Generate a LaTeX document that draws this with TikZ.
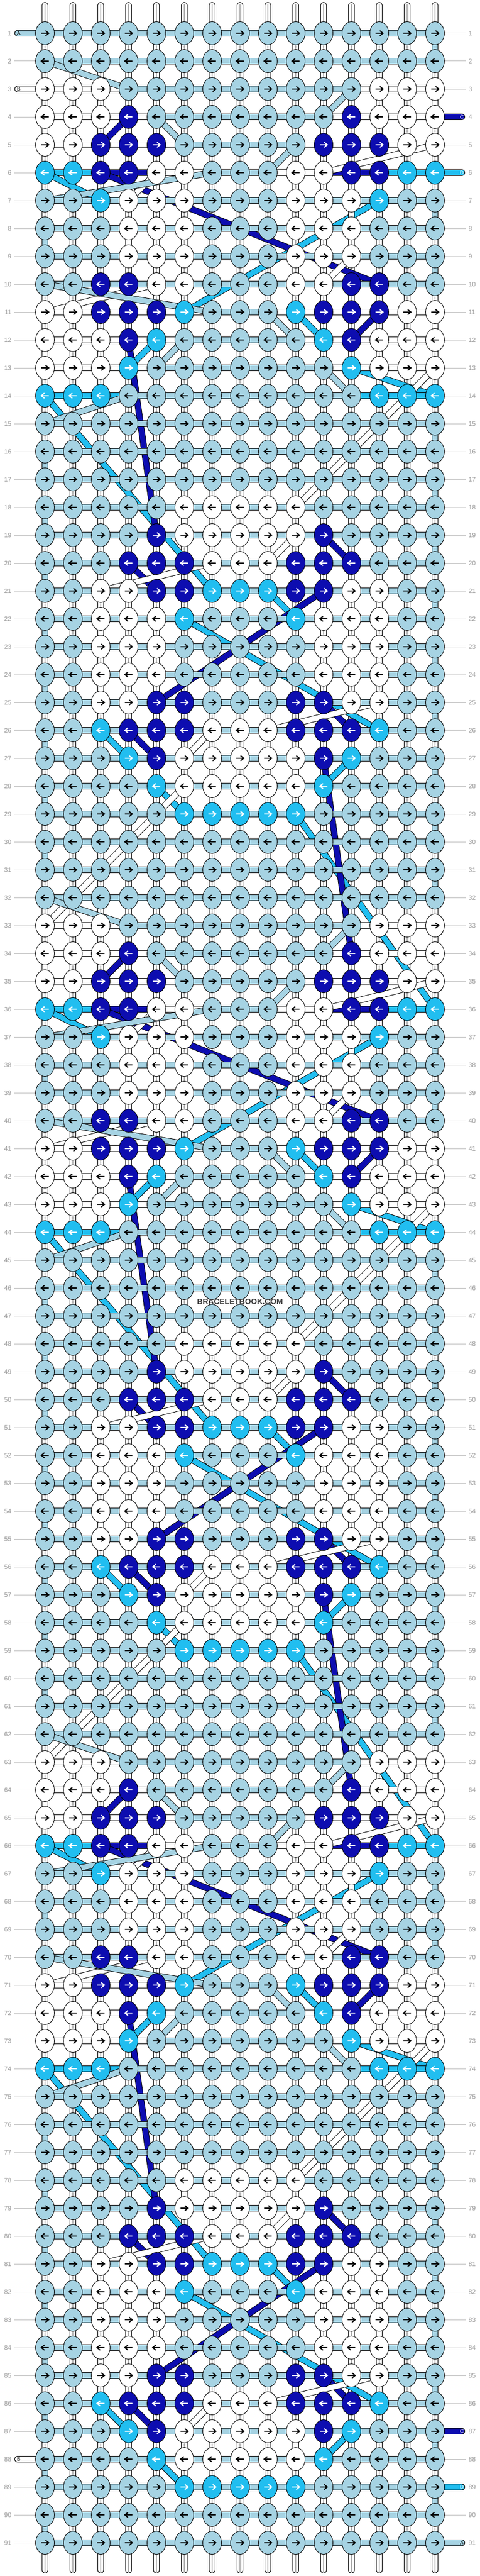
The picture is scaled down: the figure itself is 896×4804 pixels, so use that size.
\documentclass[tikz,border=0pt]{standalone}
\usepackage{fontspec}
\setmainfont{Liberation Sans}
\definecolor{cola}{HTML}{A6D3E3}
\definecolor{colw}{HTML}{FFFFFF}
\definecolor{cold}{HTML}{0D0DB0}
\definecolor{colc}{HTML}{21BEF0}
\colorlet{arra}{black}
\colorlet{arrw}{black}
\colorlet{arrd}{white}
\colorlet{arrc}{white}
\definecolor{lblgray}{HTML}{9A9A9A}
\definecolor{linegray}{HTML}{BDBDBD}
\definecolor{warpgray}{HTML}{B0B0B0}
\definecolor{wmgray}{HTML}{3C3C3C}

\tikzset{
  lbl/.style={font=\fontsize{12}{13}\selectfont, text=lblgray, inner sep=0pt},
  stublbl/.style={font=\fontsize{9.5}{10}\selectfont, inner sep=0pt},
  glabel/.style={draw=linegray, line width=1pt},
}

\newcommand\bbseg[3]{%
  \draw[line width=12pt, black, line cap=round] (#2)--(#3);
  \draw[line width=10pt, col#1, line cap=round] (#2)--(#3);}
\newcommand\bbknot[4]{%
  \draw[fill=col#1, line width=0.9pt] (#2,#3) ellipse [x radius=17.5pt, y radius=21.5pt];
  \draw[arr#1, line width=2pt, shift={(#2,#3)}, xscale=#4] (-7,0)--(7,0) (1,-4.8)--(7,0)--(1,4.8);}

\ExplSyntaxOn
\tl_new:N \l__bb_pat_tl
\tl_new:N \l__bb_s_tl
\tl_new:N \g__bb_knots_tl
\tl_new:N \g__bb_last_a_tl
\tl_new:N \g__bb_last_w_tl
\tl_new:N \g__bb_last_d_tl
\tl_new:N \g__bb_last_c_tl
\tl_new:N \g__bb_seg_a_tl
\tl_new:N \g__bb_seg_w_tl
\tl_new:N \g__bb_seg_d_tl
\tl_new:N \g__bb_seg_c_tl

\cs_new:Npn \__bb_pattern:n #1
  {
    \int_case:nnF { \int_mod:nn { #1 + 27 } { 30 } }
      {
        { 0 } { wwwaaaaaaaaawww }
        { 1 } { wwwdaaaaaaadwww }
        { 2 } { wwdddaaaaadddww }
        { 3 } { ccddwwaaawwddcc }
        { 4 } { aacwwwaaawwwcaa }
        { 5 } { aaawwwaaawwwaaa }
        { 6 } { aaawwwaaawwwaaa }
        { 7 } { aaddwwaaawwddaa }
        { 8 } { wwdddcaaacdddww }
        { 9 } { wwwdcaaaaacdwww }
        { 10 } { wwwcaaaaaaacwww }
        { 11 } { cccaaaaaaaaaccc }
        { 15 } { aaaaawwwwwaaaaa }
        { 16 } { aaaadwwwwwdaaaa }
        { 17 } { aaadddwwwdddaaa }
        { 18 } { aawwddcccddwwaa }
        { 19 } { aawwwcaaacwwwaa }
        { 20 } { aawwwaaaaawwwaa }
        { 21 } { aawwwaaaaawwwaa }
        { 22 } { aawwddaaaddwwaa }
        { 23 } { aacdddwwwdddcaa }
        { 24 } { aaacdwwwwwdcaaa }
        { 25 } { aaaacwwwwwcaaaa }
        { 26 } { aaaaacccccaaaaa }
      }
      { aaaaaaaaaaaaaaa }
  }

\cs_new_protected:Npn \__bb_visit:nnn #1#2#3
  {
    \tl_gput_right:cx { g__bb_seg_#1_tl }
      { \exp_not:N \bbseg { #1 } { \tl_use:c { g__bb_last_#1_tl } } { #2 , #3 } }
    \tl_gset:cx { g__bb_last_#1_tl } { #2 , #3 }
  }
\cs_generate_variant:Nn \__bb_visit:nnn { xxx }

\cs_new_protected:Npn \__bb_do:nn #1#2
  {
    \tl_set:Nx \l__bb_s_tl { \tl_item:Nn \l__bb_pat_tl { #2 } }
    \__bb_visit:xxx { \l__bb_s_tl }
      { \int_eval:n { 84 + 52 * ( #2 - 1 ) } }
      { \int_eval:n { 62 + 52 * ( #1 - 1 ) } }
    \tl_gput_right:Nx \g__bb_knots_tl
      {
        \exp_not:N \bbknot { \l__bb_s_tl }
          { \int_eval:n { 84 + 52 * ( #2 - 1 ) } }
          { \int_eval:n { 62 + 52 * ( #1 - 1 ) } }
          { \int_if_odd:nTF { #1 } { 1 } { -1 } }
      }
  }

\cs_new_protected:Npn \bbbuild
  {
    \tl_gset:Nn \g__bb_last_a_tl { 33 , 62 }
    \tl_gset:Nn \g__bb_last_w_tl { 33 , 166 }
    \tl_gset:Nn \g__bb_last_d_tl { 862 , 218 }
    \tl_gset:Nn \g__bb_last_c_tl { 862 , 322 }
    \int_step_inline:nnn { 1 } { 91 }
      {
        \tl_set:Nx \l__bb_pat_tl { \__bb_pattern:n { ##1 } }
        \int_if_odd:nTF { ##1 }
          { \int_step_inline:nnn { 1 } { 15 } { \__bb_do:nn { ##1 } { ####1 } } }
          { \int_step_inline:nnnn { 15 } { -1 } { 1 } { \__bb_do:nn { ##1 } { ####1 } } }
      }
    \__bb_visit:nnn { d } { 862 } { 4534 }
    \__bb_visit:nnn { w } { 33 } { 4586 }
    \__bb_visit:nnn { c } { 862 } { 4638 }
    \__bb_visit:nnn { a } { 862 } { 4742 }
  }
\cs_new_protected:Npn \bbsegs #1 { \tl_use:c { g__bb_seg_#1_tl } }
\cs_new_protected:Npn \bbknots { \tl_use:N \g__bb_knots_tl }
\ExplSyntaxOff

\begin{document}
\begin{tikzpicture}[x=1pt,y=-1pt]
\bbbuild
\useasboundingbox (0,0) rectangle (896,4804);
\fill[white] (0,0) rectangle (896,4804);
% row label lines
\foreach \r in {1,...,91} {
  \pgfmathtruncatemacro\yy{62+52*(\r-1)}
  \ifnum\r=1 \else\ifnum\r=3 \else\ifnum\r=88 \else
    \draw[glabel] (26,\yy)--(66,\yy);
  \fi\fi\fi
  \ifnum\r=4 \else\ifnum\r=6 \else\ifnum\r=87 \else\ifnum\r=89 \else\ifnum\r=91 \else
    \draw[glabel] (830,\yy)--(870,\yy);
  \fi\fi\fi\fi\fi
}
% warp strings
\foreach \j in {1,...,15} {
  \pgfmathtruncatemacro\xx{84+52*(\j-1)}
  \draw[line width=12pt, black, line cap=round] (\xx,10)--(\xx,4793);
  \draw[line width=10pt, white, line cap=round] (\xx,10)--(\xx,4793);
  \draw[line width=1.2pt, warpgray] (\xx,7)--(\xx,4796);
}
% working strings (D under C under B under A)
\bbsegs{c}
\bbsegs{d}
\bbsegs{w}
\bbsegs{a}
% knots
\bbknots
% row numbers
\foreach \r in {1,...,91} {
  \pgfmathtruncatemacro\yy{62+52*(\r-1)}
  \node[lbl, anchor=east] (L\r) at (21.5,\yy) {\r};
  \node[lbl, anchor=west] (R\r) at (874.5,\yy) {\r};
}
% string letters
\node[stublbl, text=black] (sA) at (35,62) {A};
\node[stublbl, text=black] (sB) at (35,166) {B};
\node[stublbl, text=white] (sC) at (862,218) {C};
\node[stublbl, text=white] (sD) at (862,322) {D};
\node[stublbl, text=white] (eC) at (862,4534) {C};
\node[stublbl, text=black] (eB) at (35,4586) {B};
\node[stublbl, text=white] (eD) at (862,4638) {D};
\node[stublbl, text=black] (eA) at (862,4742) {A};
% watermark
\node[font=\bfseries\fontsize{14.5}{16}\selectfont, text=wmgray, inner sep=0pt] (wm) at (448,2427) {BRACELETBOOK.COM};
\end{tikzpicture}
\end{document}
